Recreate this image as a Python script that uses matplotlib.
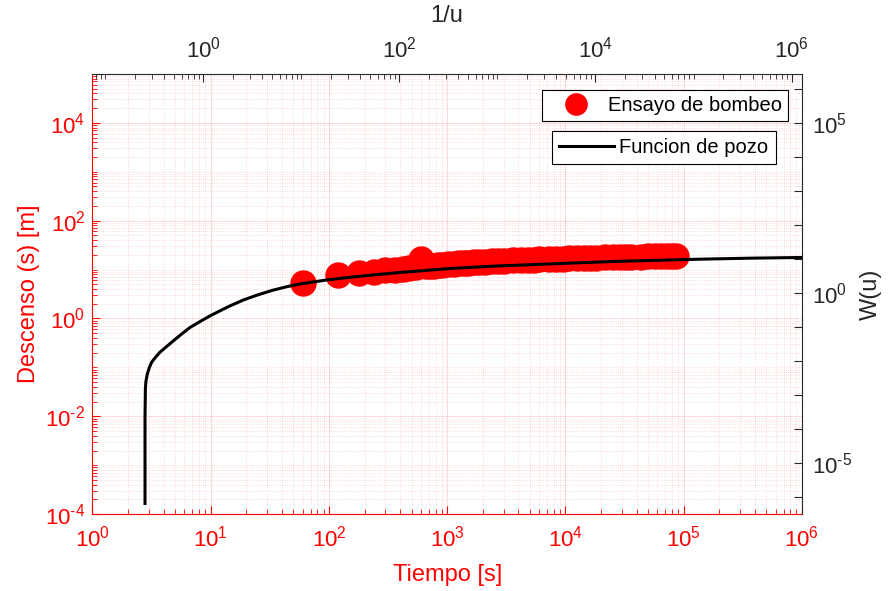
import numpy as np
import matplotlib.pyplot as plt
from matplotlib.ticker import LogLocator, NullLocator, NullFormatter

plt.rcParams['font.family'] = ['Liberation Sans', 'DejaVu Sans']
plt.rcParams['mathtext.fontset'] = 'custom'
plt.rcParams['mathtext.rm'] = 'Liberation Sans'
plt.rcParams['mathtext.it'] = 'Liberation Sans:italic'
plt.rcParams['mathtext.bf'] = 'Liberation Sans:bold'
plt.rcParams['mathtext.default'] = 'rm'

# Ensayo de bombeo: tiempo [s] y descenso [m]
tiempo = [60, 120, 180, 240, 300, 360, 420, 480, 540, 600, 660, 720, 780, 840,
          900, 1020, 1140, 1260, 1380, 1500, 1680, 1860, 2100, 2400, 2700, 3000,
          3600, 4200, 4800, 5400, 6000, 7200, 8400, 9600, 10800, 12600, 14400,
          16200, 18000, 21600, 25200, 28800, 32400, 36000, 43200, 50400, 57600,
          64800, 72000, 79200, 86400]
descenso = [5.2, 7.7, 8.4, 9.0, 9.6, 10.0, 10.5, 10.9, 11.2, 16.2, 11.6, 11.9,
            12.1, 12.4, 12.6, 12.9, 13.2, 13.4, 13.6, 13.8, 14.0, 14.2, 14.4,
            14.7, 14.9, 15.1, 15.4, 15.6, 15.8, 16.0, 16.2, 16.4, 16.6, 16.8,
            16.9, 17.1, 17.3, 17.4, 17.5, 17.7, 17.8, 18.0, 18.1, 18.2, 18.4,
            18.5, 18.6, 18.7, 18.8, 18.9, 19.0]

# Funcion de pozo W(u) contra 1/u
inv_u = [0.2547, 0.2547, 0.2570, 0.2600, 0.2685, 0.2818, 0.2979, 0.3311, 0.3622,
         0.4266, 0.4943, 0.6026, 0.7328, 0.9333, 1.172, 1.479, 1.875, 2.570,
         3.516, 5.012, 7.112, 9.683, 17.78, 31.48, 56.23, 101.9, 329.6, 1000,
         2000, 5012, 15170, 39810, 117200, 398100, 1.279e6]
w_u = [6.53e-7, 2.25e-4, 1.585e-3, 2.51e-3, 4.15e-3, 6.46e-3, 9.35e-3, 0.0138,
       0.0184, 0.0275, 0.0395, 0.0631, 0.098, 0.148, 0.215, 0.302, 0.423, 0.631,
       0.871, 1.202, 1.549, 1.862, 2.427, 2.938, 3.467, 4.064, 5.321, 6.31, 6.79,
       7.59, 8.55, 9.23, 10.0, 10.72, 11.22]

gris = '#262626'
rect = [0.104, 0.130, 0.798, 0.745]


def etiqueta(k):
    # exponente con guion simple, como en el original
    if k < 0:
        return r'$10^{\text{-}%d}$' % (-k)
    return '$10^{%d}$' % k


fig = plt.figure(figsize=(8.89, 5.91), dpi=100)

# ejes principales (tiempo / descenso) en rojo
ax = fig.add_axes(rect)
ax.set_xscale('log')
ax.set_yscale('log')
ax.plot(tiempo, descenso, 'o', color='r', ms=18, label='Ensayo de bombeo')
ax.set_xlim(1, 1e6)
ax.set_ylim(1e-4, 1e5)
ax.set_xticks([10.0**k for k in range(0, 7)])
ax.set_xticklabels([etiqueta(k) for k in range(0, 7)])
ax.set_yticks([10.0**k for k in range(-4, 5, 2)])
ax.set_yticklabels([etiqueta(k) for k in range(-4, 5, 2)])
ax.xaxis.set_minor_locator(LogLocator(base=10, subs=np.arange(2, 10), numticks=30))
ax.yaxis.set_minor_locator(LogLocator(base=10, subs=np.arange(1, 10), numticks=30))
ax.xaxis.set_minor_formatter(NullFormatter())
ax.yaxis.set_minor_formatter(NullFormatter())
ax.tick_params(which='both', direction='in', colors='r', labelsize=16)
ax.tick_params(which='major', length=6, width=0.8)
ax.tick_params(which='minor', length=3.5, width=0.6)
ax.tick_params(axis='x', pad=8)
ax.tick_params(axis='y', pad=5)
ax.grid(which='major', color='r', alpha=0.15, lw=0.7)
ax.grid(which='minor', color='r', alpha=0.2, lw=0.6, ls=':')
for side in ['top', 'right']:
    ax.spines[side].set_visible(False)
for side in ['left', 'bottom']:
    ax.spines[side].set_color('r')
ax.set_xlabel('Tiempo [s]', color='r', fontsize=17, labelpad=9)
ax.set_ylabel('Descenso (s) [m]', color='r', fontsize=17, labelpad=4)

leg1 = ax.legend(loc='upper right', bbox_to_anchor=(0.981, 0.963), fancybox=False,
                 edgecolor='k', framealpha=1, fontsize=14.5, markerscale=0.85,
                 borderpad=0.3, handlelength=2.76, handletextpad=0.23,
                 borderaxespad=0)
leg1.get_frame().set_linewidth(0.8)

# ejes secundarios (1/u / W(u)) en negro
ax2 = fig.add_axes(rect)
ax2.patch.set_visible(False)
ax2.set_xscale('log')
ax2.set_yscale('log')
ax2.plot(inv_u, w_u, color='k', lw=2.2, label='Funcion de pozo')
ax2.set_xlim(10**-1.13, 10**6.105)
ax2.set_ylim(10**-6.5, 10**6.45)
ax2.xaxis.tick_top()
ax2.xaxis.set_label_position('top')
ax2.yaxis.tick_right()
ax2.yaxis.set_label_position('right')
ax2.set_xticks([1, 1e2, 1e4, 1e6])
ax2.set_xticklabels([etiqueta(k) for k in (0, 2, 4, 6)])
ax2.xaxis.set_minor_locator(LogLocator(base=10, subs=np.arange(1, 10), numticks=30))
ax2.xaxis.set_minor_formatter(NullFormatter())
ax2.set_yticks([10.0**k for k in range(-6, 7)])
ax2.set_yticklabels([etiqueta(k) if k in (-5, 0, 5) else '' for k in range(-6, 7)])
ax2.yaxis.set_minor_locator(NullLocator())
ax2.tick_params(which='both', direction='in', colors=gris, labelsize=16)
ax2.tick_params(which='major', length=6, width=0.8)
ax2.tick_params(which='minor', length=3.5, width=0.6)
ax2.tick_params(axis='x', pad=8)
ax2.tick_params(axis='y', pad=7)
for side in ['left', 'bottom']:
    ax2.spines[side].set_visible(False)
for side in ['top', 'right']:
    ax2.spines[side].set_color(gris)
ax2.set_xlabel('1/u', color=gris, fontsize=17, labelpad=11)
ax2.set_ylabel('W(u)', color=gris, fontsize=17, labelpad=6)

leg2 = ax2.legend(loc='upper right', bbox_to_anchor=(0.963, 0.871), fancybox=False,
                  edgecolor='k', framealpha=1, fontsize=14.5, handlelength=2.74,
                  borderpad=0.35, handletextpad=0.25, borderaxespad=0)
leg2.get_frame().set_linewidth(0.8)

fig.savefig('out.png', dpi=100)
